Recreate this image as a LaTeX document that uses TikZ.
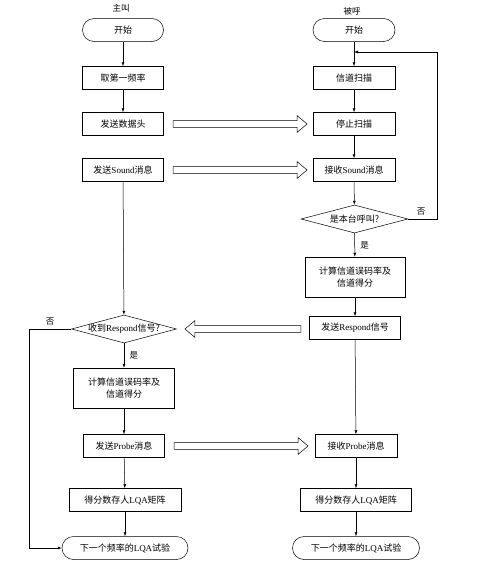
\documentclass[tikz,border=0pt]{standalone}
\usepackage{fontspec}
\setmainfont{Noto Sans CJK SC}
\newfontfamily\latin{Liberation Serif}
\newcommand{\en}[1]{{\latin #1}}
\usetikzlibrary{shapes.geometric,shapes.arrows,arrows.meta}

\tikzset{
  proc/.style={draw, rectangle, minimum height=23pt, inner sep=2pt, align=center,
    font=\fontsize{9}{11.5}\selectfont},
  term/.style={proc, rounded corners=11.5pt},
  decision/.style={draw, diamond, inner sep=0pt, minimum height=28pt,
    font=\fontsize{9}{11}\selectfont},
  flow/.style={-{Latex[length=4pt,width=3pt]}},
  bigarrow/.style={draw, single arrow, inner xsep=0pt, inner ysep=3.2pt,
    single arrow head extend=4.8pt, single arrow tip angle=80},
  side/.style={font=\fontsize{8.5}{10}\selectfont},
}

\begin{document}
\begin{tikzpicture}[x=1pt, y=-1pt, line width=0.5pt]
        \useasboundingbox (0,0) rectangle (490,570);

        %caller
        \node[side] (caller) at (121,8) {主叫};
        \node[term, minimum width=81pt] (start1) at (123,30) {开始};
        \node[proc, minimum width=81pt] (freq1) at (123,78) {取第一频率};
        \node[proc, minimum width=81pt] (head1) at (123,124) {发送数据头};
        \node[proc, minimum width=81pt] (sound1) at (123,170) {发送\en{Sound}消息};
        \node[decision, minimum width=105pt] (ask1) at (124,329) {\makebox[0pt]{收到\en{Respond}信号?}};
        \node[proc, minimum width=101pt, minimum height=40pt] (calc1) at (124,388) {计算信道误码率及\\信道得分};
        \node[proc, minimum width=81pt] (probe1) at (124,446) {发送\en{Probe}消息};
        \node[proc, minimum width=112pt] (store1) at (125,500) {得分数存人\en{LQA}矩阵};
        \node[term, minimum width=126pt] (end1) at (125,548) {下一个频率的\en{LQA}试验};

        %called
        \node[side] (callee) at (352,11) {被呼};
        \node[term, minimum width=82pt] (start2) at (354,30) {开始};
        \node[proc, minimum width=82pt] (scan2) at (354,78) {信道扫描};
        \node[proc, minimum width=82pt] (stop2) at (354,124) {停止扫描};
        \node[proc, minimum width=82pt] (sound2) at (354,170) {接收\en{Sound}消息};
        \node[decision, minimum width=107pt] (ask2) at (354.5,219) {\makebox[0pt]{是本台呼叫?}};
        \node[proc, minimum width=100pt, minimum height=40pt] (calc2) at (355,277) {计算信道误码率及\\信道得分};
        \node[proc, minimum width=91pt] (resp2) at (355,328) {发送\en{Respond}信号};
        \node[proc, minimum width=82pt] (probe2) at (356,446) {接收\en{Probe}消息};
        \node[proc, minimum width=111pt] (store2) at (356,500) {得分数存人\en{LQA}矩阵};
        \node[term, minimum width=127pt] (end2) at (356,548) {下一个频率的\en{LQA}试验};

        %loop points
        \coordinate (loop2) at (354,52);
        \coordinate (turn2) at (437,219);
        \coordinate (turn1) at (29,329);

        %caller arrows
        \draw[flow] (start1) -- (freq1);
        \draw[flow] (freq1) -- (head1);
        \draw[flow] (sound1) -- (ask1);
        \draw[flow] (ask1) -- node[side, right, xshift=2pt] {是} (calc1);
        \draw[flow] (calc1) -- (probe1);
        \draw[flow] (probe1) -- (store1);
        \draw[flow] (store1) -- (end1);
        \draw[flow] (ask1.west) -- node[side, above, pos=0.5] {否} (turn1) |- (end1.west);

        %called arrows
        \draw[flow] (start2) -- (scan2);
        \draw[flow] (scan2) -- (stop2);
        \draw[flow] (stop2) -- (sound2);
        \draw[flow] (sound2) -- (ask2);
        \draw[flow] (ask2) -- node[side, right, xshift=2pt] {是} (calc2);
        \draw[flow] (calc2) -- (resp2);
        \draw[flow] (resp2) -- (probe2);
        \draw[flow] (probe2) -- (store2);
        \draw[flow] (store2) -- (end2);
        \draw[flow] (ask2.east) -- node[side, above, pos=0.45] {否} (turn2) |- (loop2);

        %messages
        \node[bigarrow, minimum height=134pt] (msg1) at (238,124) {};
        \node[bigarrow, minimum height=134pt] (msg2) at (238,170) {};
        \node[bigarrow, minimum height=116pt, shape border rotate=180] (msg3) at (245,329) {};
        \node[bigarrow, minimum height=134pt] (msg4) at (239,446) {};
\end{tikzpicture}
\end{document}
